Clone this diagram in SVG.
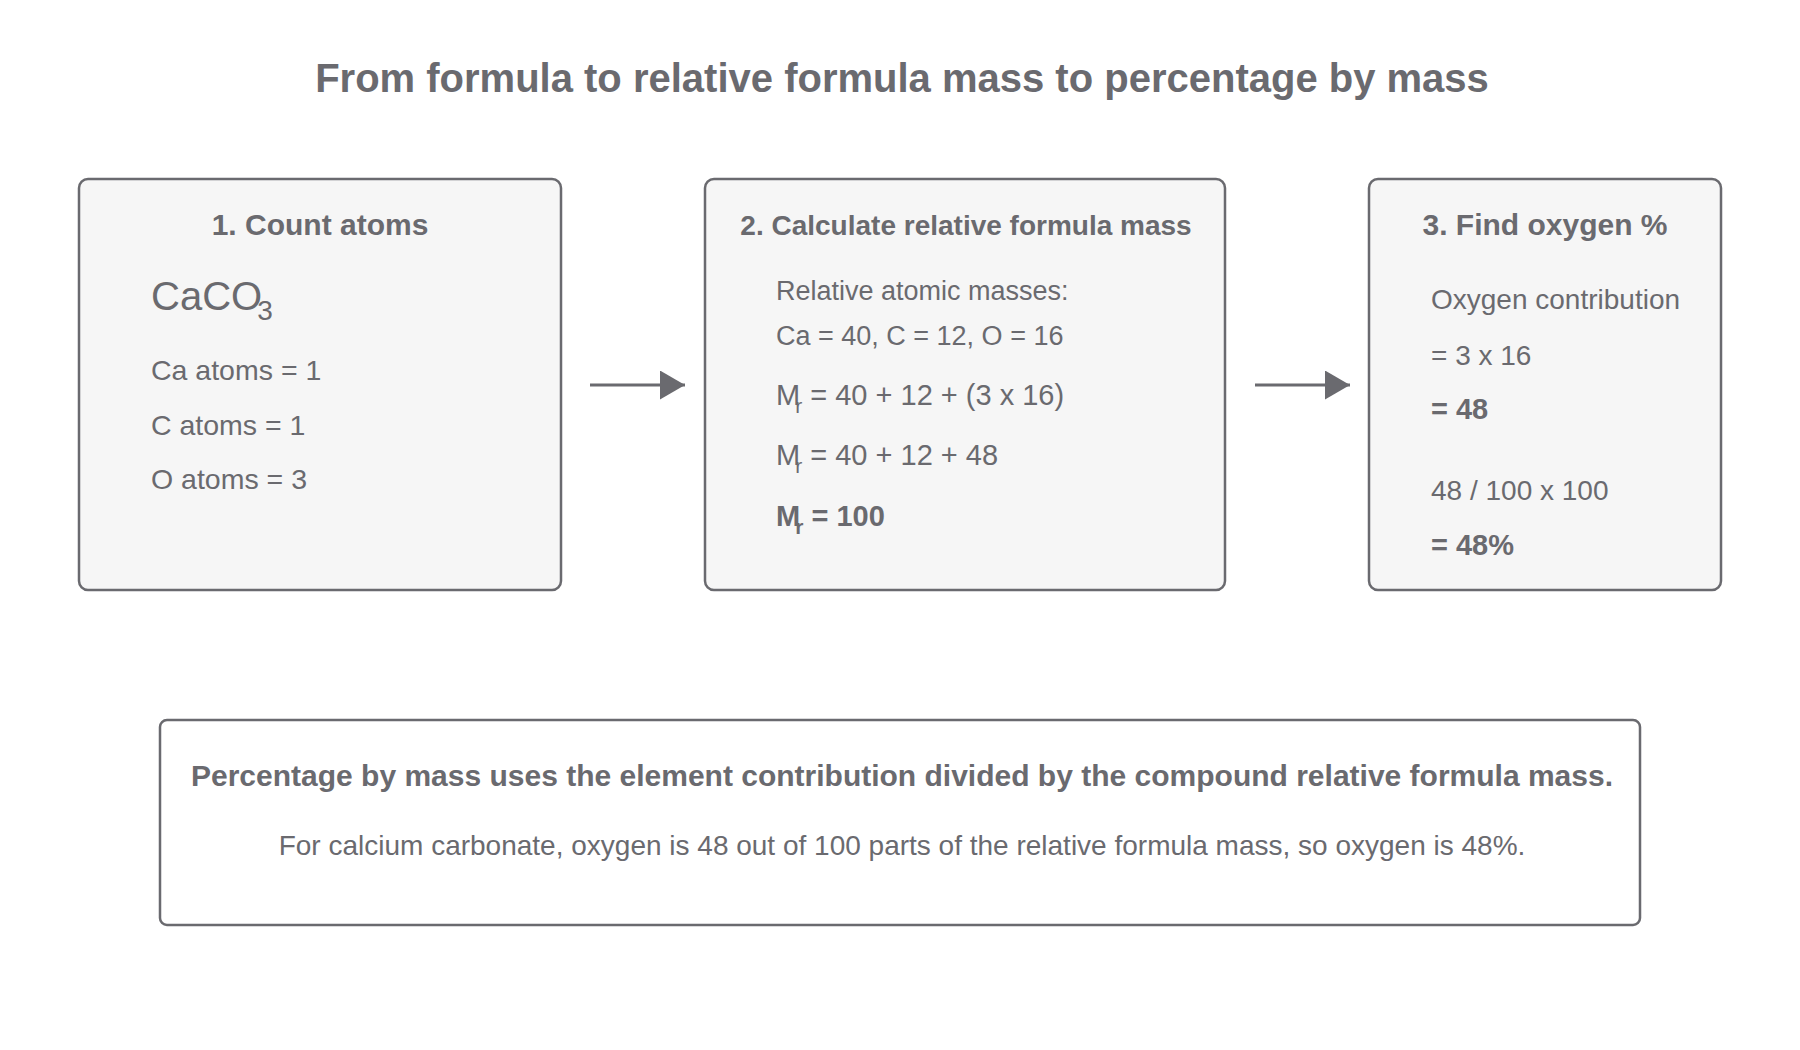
<svg xmlns="http://www.w3.org/2000/svg" width="1800" height="1050" viewBox="0 0 1800 1050">
<defs>
<style>
text { font-family: "Liberation Sans", Arial, Helvetica, sans-serif; fill: #6a6a6f; }
.title { font-size: 40px; font-weight: bold; }
.head { font-size: 30px; font-weight: bold; }
.head2 { font-size: 28px; font-weight: bold; }
.body { font-size: 28.5px; }
.body3 { font-size: 28px; }
.body2 { font-size: 27px; }
.mr { font-size: 29px; }
.sub { font-size: 21px; }
.b { font-weight: bold; }
.bb { font-size: 29px; font-weight: bold; }
.box { fill: #f6f6f6; stroke: #6a6a6f; stroke-width: 2.5; }
.note { fill: #ffffff; stroke: #6a6a6f; stroke-width: 2.5; }
.conn { stroke: #6a6a6f; stroke-width: 3; fill: none; }
.nb { font-size: 30px; font-weight: bold; }
.nn { font-size: 28px; }
</style>
<marker id="arrow" viewBox="0 0 25 29" refX="25" refY="14.5" markerWidth="25" markerHeight="29" markerUnits="userSpaceOnUse" orient="auto">
<path d="M0,0 L25,14.5 L0,29 Z" fill="#6a6a6f"/>
</marker>
</defs>
<rect width="1800" height="1050" fill="#ffffff"/>
<text class="title" x="902" y="92" text-anchor="middle">From formula to relative formula mass to percentage by mass</text>

<g id="node-count">
<rect class="box" x="79" y="179" width="482" height="411" rx="9"/>
<text class="head" x="320" y="235" text-anchor="middle">1. Count atoms</text>
<text x="151" y="310" style="font-size:40px">CaCO<tspan dx="-5" dy="10" style="font-size:28px">3</tspan></text>
<text class="body" x="151" y="380">Ca atoms = 1</text>
<text class="body" x="151" y="435">C atoms = 1</text>
<text class="body" x="151" y="489">O atoms = 3</text>
</g>

<g id="node-calc">
<rect class="box" x="705" y="179" width="520" height="411" rx="9"/>
<text class="head2" x="966" y="235" text-anchor="middle">2. Calculate relative formula mass</text>
<text class="body2" x="776" y="300">Relative atomic masses:</text>
<text class="body2" x="776" y="345">Ca = 40, C = 12, O = 16</text>
<text class="mr" x="776" y="405">M<tspan class="sub" dx="-5" dy="8">r</tspan><tspan dy="-8"> = 40 + 12 + (3 x 16)</tspan></text>
<text class="mr" x="776" y="465">M<tspan class="sub" dx="-5" dy="8">r</tspan><tspan dy="-8"> = 40 + 12 + 48</tspan></text>
<text class="mr b" x="776" y="526">M<tspan class="sub" dx="-5" dy="8">r</tspan><tspan dy="-8"> = 100</tspan></text>
</g>

<g id="node-percent">
<rect class="box" x="1369" y="179" width="352" height="411" rx="9"/>
<text class="head" x="1545" y="235" text-anchor="middle">3. Find oxygen %</text>
<text class="body3" x="1431" y="309">Oxygen contribution</text>
<text class="body3" x="1431" y="365">= 3 x 16</text>
<text class="bb" x="1431" y="419">= 48</text>
<text class="body3" x="1431" y="500">48 / 100 x 100</text>
<text class="bb" x="1431" y="555">= 48%</text>
</g>

<g id="node-note">
<rect class="note" x="160" y="720" width="1480" height="205" rx="7"/>
<text class="nb" x="902" y="786" text-anchor="middle">Percentage by mass uses the element contribution divided by the compound relative formula mass.</text>
<text class="nn" x="902" y="855" text-anchor="middle">For calcium carbonate, oxygen is 48 out of 100 parts of the relative formula mass, so oxygen is 48%.</text>
</g>

<g id="connectors">
<line class="conn" x1="590" y1="385" x2="685" y2="385" marker-end="url(#arrow)"/>
<line class="conn" x1="1255" y1="385" x2="1350" y2="385" marker-end="url(#arrow)"/>
</g>
</svg>
